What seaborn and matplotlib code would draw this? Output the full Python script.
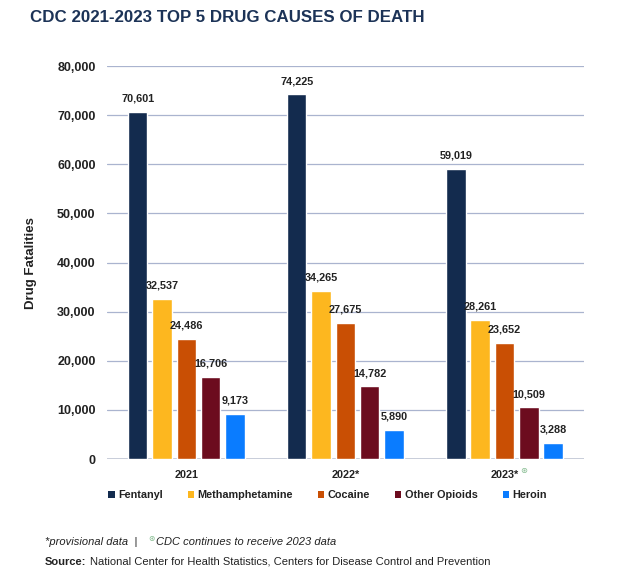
import seaborn as sns
import matplotlib.pyplot as plt
import pandas as pd
from matplotlib.patches import Patch

years = ["2021", "2022*", "2023*"]
drugs = ["Fentanyl", "Methamphetamine", "Cocaine", "Other Opioids", "Heroin"]
fentanyl = [70601, 74225, 59019]
meth = [32537, 34265, 28261]
cocaine = [24486, 27675, 23652]
other_opioids = [16706, 14782, 10509]
heroin = [9173, 5890, 3288]
colors = ["#132b4e", "#fdb71f", "#c94f04", "#6c0c1e", "#0a7cff"]

rows = []
for drug, vals in zip(drugs, [fentanyl, meth, cocaine, other_opioids, heroin]):
    for yr, v in zip(years, vals):
        rows.append({"year": yr, "drug": drug, "deaths": v})
df = pd.DataFrame(rows)

sns.set_style("white")
plt.rcParams["font.family"] = ["Liberation Sans", "DejaVu Sans"]

fig = plt.figure(figsize=(6.24, 5.75), dpi=100)
ax = fig.add_axes([0.171, 0.2017, 0.765, 0.6833])

p = sns.barplot(data=df, x="year", y="deaths", hue="drug", hue_order=drugs,
                order=years, palette=colors, width=0.765, gap=0.2,
                saturation=1, legend=False, ax=ax)

for c in p.containers:
    p.bar_label(c, labels=[f"{v:,.0f}" for v in c.datavalues], padding=6,
                fontsize=7.8, fontweight="bold", color="#222222")

ax.set_ylim(0, 80000)
ax.set_yticks(range(0, 80001, 10000))
ax.set_yticklabels([f"{v:,}" for v in range(0, 80001, 10000)],
                   fontsize=9, fontweight="bold", color="#222222")
ax.yaxis.grid(True, color="#aab4cf", linewidth=0.9)
ax.set_axisbelow(True)
sns.despine(ax=ax, left=True, top=True, right=True, bottom=True)
ax.axhline(0, color="#c5cad6", linewidth=1.2, zorder=0)
ax.tick_params(length=0, pad=8)
for t in ax.get_xticklabels():
    t.set_fontsize(7.8)
    t.set_fontweight("bold")
    t.set_color("#222222")
ax.set_xlabel("")
ax.set_ylabel("Drug Fatalities", fontsize=9.5, fontweight="bold",
              color="#222222")
ax.yaxis.set_label_coords(-0.145, 0.5)

# green circled mark after 2023*
ax.annotate("⊛", xy=(2, 0), xycoords="data", xytext=(11, -5),
            textcoords="offset points", ha="left", va="top",
            fontsize=6, color="#7fb88a", family="DejaVu Sans")

fig.text(0.048, 0.969, "CDC 2021-2023 TOP 5 DRUG CAUSES OF DEATH",
         fontsize=12.2, fontweight="bold", color="#1c3357", va="center")

handles = [Patch(facecolor=c, edgecolor="none", label=d) for c, d in zip(colors, drugs)]
leg = fig.legend(handles=handles, loc="center left", bbox_to_anchor=(0.158, 0.139),
                 ncol=5, frameon=False, handlelength=0.6, handleheight=0.6,
                 handletextpad=0.3, columnspacing=2.3,
                 prop={"size": 7.8, "weight": "bold"})
for t in leg.get_texts():
    t.set_color("#222222")

fig.text(0.072, 0.058, "*provisional data  |  ", fontsize=8, style="italic",
         color="#222222", va="center")
fig.text(0.238, 0.063, "⊛", fontsize=5.5, color="#7fb88a", va="center",
         family="DejaVu Sans")
fig.text(0.250, 0.058, "CDC continues to receive 2023 data", fontsize=8,
         style="italic", color="#222222", va="center")
fig.text(0.072, 0.023, "Source:", fontsize=8, fontweight="bold",
         color="#222222", va="center")
fig.text(0.144, 0.023, "National Center for Health Statistics, Centers for Disease Control and Prevention",
         fontsize=8, color="#222222", va="center")

fig.savefig("out.png", dpi=100)
